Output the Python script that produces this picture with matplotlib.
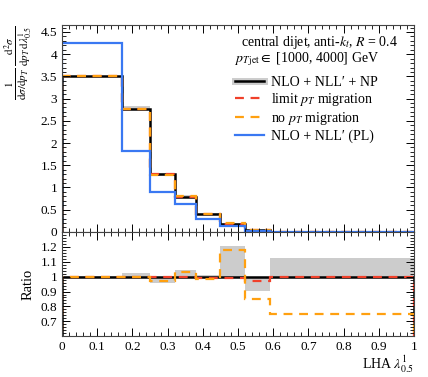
import matplotlib
matplotlib.use("Agg")
import matplotlib.pyplot as plt
from matplotlib.lines import Line2D
from matplotlib.ticker import MultipleLocator
import numpy as np

plt.rcParams['font.family'] = ['Liberation Serif', 'DejaVu Serif']
plt.rcParams['mathtext.fontset'] = 'stix'

# bin edges of LHA
edges = [0, 0.17, 0.25, 0.32, 0.38, 0.45, 0.52, 0.59, 1.0]

# top panel: normalised distributions
np_central = [3.50, 2.76, 1.31, 0.78, 0.41, 0.18, 0.05, 0.003]
np_lo = [3.48, 2.74, 1.26, 0.77, 0.40, 0.17, 0.045, 0.003]
np_hi = [3.52, 2.83, 1.32, 0.82, 0.42, 0.21, 0.05, 0.004]
limit_mig = [3.50, 2.76, 1.31, 0.78, 0.41, 0.18, 0.048, 0.003]
no_mig = [3.50, 2.76, 1.29, 0.80, 0.41, 0.21, 0.043, 0.002]
pl = [4.25, 1.83, 0.90, 0.62, 0.28, 0.13, 0.03, 0.002]

# ratio panel
band_lo = [0.995, 0.995, 0.958, 0.995, 0.99, 1.0, 0.905, 1.0]
band_hi = [1.005, 1.026, 1.0, 1.047, 1.01, 1.205, 1.0, 1.125]
ratio_np = [1, 1, 1, 1, 1, 1, 1, 1]
ratio_limit = [1.0, 1.0, 1.0, 1.0, 0.99, 0.99, 0.97, 1.0]
ratio_nomig = [1.0, 1.0, 0.97, 1.033, 0.983, 1.18, 0.852, 0.748]

grey = '#cccccc'
red = '#f0402a'
orange = '#ffa010'
blue = '#3a78f2'

fig = plt.figure(figsize=(4.28, 3.77), dpi=100)
ax1 = fig.add_axes([0.145, 0.385, 0.822, 0.549])
ax2 = fig.add_axes([0.145, 0.108, 0.822, 0.277])

ax1.stairs(np_hi, edges, baseline=np_lo, fill=True, color=grey, lw=0)
ax1.stairs(np_central, edges, color='black', lw=1.8)
ax1.stairs(limit_mig, edges, color=red, lw=1.6, ls=(0, (4, 3)))
ax1.stairs(no_mig, edges, color=orange, lw=1.6, ls=(0, (4, 3)))
ax1.stairs(pl, edges, color=blue, lw=1.6)

ax2.stairs(band_hi, edges, baseline=band_lo, fill=True, color=grey, lw=0)
ax2.stairs(ratio_np, edges, color='black', lw=1.8)
ax2.stairs(ratio_limit, edges, color=red, lw=1.6, ls=(0, (4, 3)))
ax2.stairs(ratio_nomig, edges, color=orange, lw=1.6, ls=(0, (4, 3)))

for ax in (ax1, ax2):
    ax.set_xlim(0, 1)
    ax.xaxis.set_major_locator(MultipleLocator(0.1))
    ax.xaxis.set_minor_locator(MultipleLocator(0.02))
    ax.tick_params(which='both', direction='in', top=True, right=True, labelsize=9.5)
    ax.tick_params(which='major', length=6, width=0.7)
    ax.tick_params(which='minor', length=3, width=0.6)
    for s in ax.spines.values():
        s.set_linewidth(0.8)
        s.set_color('#444444')

ax1.set_ylim(0, 4.66)
ax1.yaxis.set_minor_locator(MultipleLocator(0.1))
ax1.set_yticks(np.arange(0, 4.6, 0.5))
ax1.set_yticklabels(['0', '0.5', '1', '1.5', '2', '2.5', '3', '3.5', '4', '4.5'])
ax1.tick_params(labelbottom=False)
ax1.set_ylabel(r'$\frac{1}{\mathrm{d}\sigma/\mathrm{d}p_T}\,\frac{\mathrm{d}^2\sigma}{\mathrm{d}p_T\,\mathrm{d}\lambda^1_{0.5}}$',
               loc='top', fontsize=11.5, labelpad=4)

ax2.set_ylim(0.6, 1.3)
ax2.yaxis.set_minor_locator(MultipleLocator(0.02))
ax2.set_yticks([0.7, 0.8, 0.9, 1.0, 1.1, 1.2])
ax2.set_yticklabels(['0.7', '0.8', '0.9', '1', '1.1', '1.2'])
ax2.set_xticks(np.arange(0, 1.01, 0.1))
ax2.set_xticklabels(['0', '0.1', '0.2', '0.3', '0.4', '0.5', '0.6', '0.7', '0.8', '0.9', '1'])
ax2.set_ylabel('Ratio', fontsize=10.5)
ax2.set_xlabel(r'LHA $\lambda^1_{0.5}$', fontsize=10, ha='right', va='top')
ax2.xaxis.set_label_coords(1.0, -0.17)

ax1.text(0.955, 0.915, r'central dijet, anti-$k_t$, $R$ = 0.4', transform=ax1.transAxes,
         ha='right', va='center', fontsize=10)
ax1.text(0.9, 0.835, r'$p_{T\,\mathrm{jet}} \in$ [1000, 4000] GeV', transform=ax1.transAxes,
         ha='right', va='center', fontsize=10)

handles = [(Line2D([], [], color=grey, lw=5), Line2D([], [], color='black', lw=1.8)),
           Line2D([], [], color=red, lw=1.6, ls=(0, (4, 3))),
           Line2D([], [], color=orange, lw=1.6, ls=(0, (4, 3))),
           Line2D([], [], color=blue, lw=1.6)]
labels = ['NLO + NLL\u2032 + NP', r'limit $p_T$ migration', r'no $p_T$ migration',
          'NLO + NLL\u2032 (PL)']
ax1.legend(handles, labels, loc='upper right', bbox_to_anchor=(0.925, 0.8), frameon=False,
           fontsize=10, handlelength=2.1, handletextpad=0.5, labelspacing=0.15, borderpad=0.2)

fig.savefig('out.png', dpi=100)
